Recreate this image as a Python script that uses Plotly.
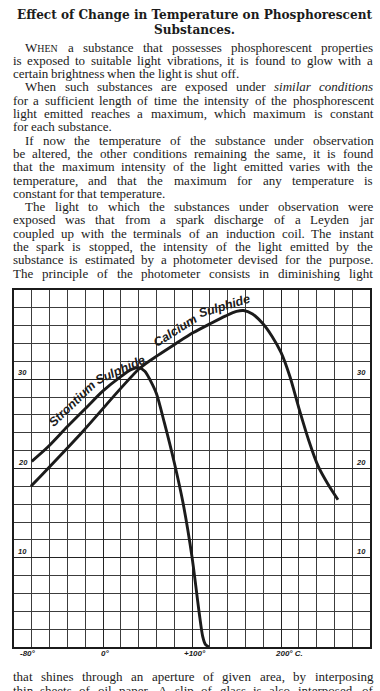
import plotly.graph_objects as go

# ---------------- data ----------------
sr_temp = [-80, -62, -40, -18, 0, 20, 32, 40, 47, 53, 60, 69, 80, 90, 100, 108, 112, 115, 119]
sr_int = [20.8, 22.4, 24.7, 26.9, 28.7, 30.3, 31.1, 31.3, 30.9, 29.9, 28.4, 25.1, 20.7, 16.1, 10.1, 3.9, 1.2, 0.3, 0.0]

ca_temp = [-81, -25, 41, 62, 82, 101, 120, 138, 150, 158, 168, 179, 190, 200, 210, 220, 231, 242, 253, 264]
ca_int = [18.0, 23.9, 31.2, 32.7, 34.0, 35.2, 36.2, 37.1, 37.6, 37.7, 37.3, 36.3, 34.8, 33.0, 30.3, 26.8, 23.2, 20.2, 18.2, 16.5]

x_tick_vals = [-80, 0, 100, 200]
x_tick_text = ["-80°", "0°", "+100°", "200° C."]
y_tick_vals = [10, 20, 30]
y_tick_text = ["10", "20", "30"]

title_lines = ["Effect of Change in Temperature on Phosphorescent", "Substances."]

paras_top = [
    ["WHEN a substance that possesses phosphorescent properties",
     "is exposed to suitable light vibrations, it is found to glow with a",
     "certain brightness when the light is shut off."],
    ["When such substances are exposed under *similar *conditions",
     "for a sufficient length of time the intensity of the phosphorescent",
     "light emitted reaches a maximum, which maximum is constant",
     "for each substance."],
    ["If now the temperature of the substance under observation",
     "be altered, the other conditions remaining the same, it is found",
     "that the maximum intensity of the light emitted varies with the",
     "temperature, and that the maximum for any temperature is",
     "constant for that temperature."],
    ["The light to which the substances under observation were",
     "exposed was that from a spark discharge of a Leyden jar",
     "coupled up with the terminals of an induction coil. The instant",
     "the spark is stopped, the intensity of the light emitted by the",
     "substance is estimated by a photometer devised for the purpose.",
     "The principle of the photometer consists in diminishing light"],
]
lines_bottom = ["that shines through an aperture of given area, by interposing",
                "thin sheets of oil paper. A slip of glass is also interposed, of"]

# ---------------- layout constants ----------------
W, H = 380, 691
L, R, T, B = 14, 8, 290, 44
PW, PH = W - L - R, H - T - B
INK = "#1b1b1b"
FS = 13.0
SERIF = "Liberation Serif"

def pxx(px):
    return (px - L) / PW

def pyy(py):
    return (H - B - py) / PH

TIMES = {' ': 250, 'a': 444, 'b': 500, 'c': 444, 'd': 500, 'e': 444, 'f': 333, 'g': 500, 'h': 500,
         'i': 278, 'j': 278, 'k': 500, 'l': 278, 'm': 778, 'n': 500, 'o': 500, 'p': 500, 'q': 500,
         'r': 333, 's': 389, 't': 278, 'u': 500, 'v': 500, 'w': 722, 'x': 500, 'y': 500, 'z': 444,
         'A': 722, 'B': 667, 'C': 667, 'D': 722, 'E': 611, 'F': 556, 'G': 722, 'H': 722, 'I': 333,
         'J': 389, 'K': 722, 'L': 611, 'M': 889, 'N': 722, 'O': 722, 'P': 556, 'Q': 722, 'R': 667,
         'S': 556, 'T': 611, 'U': 722, 'V': 722, 'W': 944, 'X': 722, 'Y': 722, 'Z': 611,
         ',': 250, '.': 250, ';': 278, ':': 278, '-': 333, "'": 333}
TIMES_I = dict(TIMES)
TIMES_I.update({'a': 500, 'f': 278, 'k': 444, 'm': 722, 'r': 389, 'v': 444, 'w': 667, 'x': 444,
                'y': 444, 'z': 389})

SC = 0.76

def word_info(w):
    if w == "WHEN":
        html = 'W<span style="font-size:%.1fpx">HEN</span>' % (FS * SC)
        width = (TIMES['W'] + SC * (TIMES['H'] + TIMES['E'] + TIMES['N'])) * FS / 1000
        return html, width
    if w.startswith('*'):
        w = w[1:]
        return '<i>%s</i>' % w, sum(TIMES_I.get(c, 500) for c in w) * FS / 1000
    return w, sum(TIMES.get(c, 500) for c in w) * FS / 1000

annotations = []

def add_line(text, yc, indent, justify):
    words = text.split(' ')
    infos = [word_info(w) for w in words]
    left = 12.5 + indent
    right = 375.0
    total = sum(wd for _, wd in infos)
    if justify and len(words) > 1:
        gap = (right - left - total) / (len(words) - 1)
    else:
        gap = TIMES[' '] * FS / 1000
    x = left
    for html, wd in infos:
        annotations.append(dict(
            text=html, x=pxx(x), y=pyy(yc), xref="paper", yref="paper",
            xanchor="left", yanchor="middle", showarrow=False, borderpad=0, borderwidth=0,
            font=dict(family=SERIF, size=FS, color=INK)))
        x += wd + gap

i = 0
for para in paras_top:
    for j, line in enumerate(para):
        last = (j == len(para) - 1)
        justify = (not last) or (para is paras_top[-1])
        add_line(line, 47 + 13.3 * i, 13 if j == 0 else 0, justify)
        i += 1
for k, line in enumerate(lines_bottom):
    add_line(line, 676.7 + 13.3 * k, 0, True)

# title
for k, t in enumerate(title_lines):
    annotations.append(dict(
        text=t, x=pxx(196), y=pyy([14.7, 29.5][k]), xref="paper", yref="paper",
        xanchor="center", yanchor="middle", showarrow=False, borderpad=0,
        font=dict(family="DejaVu Serif", size=12.1, color=INK, weight="bold")))

LBL = dict(family="Liberation Sans", size=7.5, color=INK, weight="bold", style="italic")
# y labels on both sides, sitting on their grid lines
for v, t in zip(y_tick_vals, y_tick_text):
    annotations.append(dict(text=t, x=pxx(17), y=v, xref="paper", yref="y", xanchor="left",
                            yanchor="bottom", showarrow=False, borderpad=0, yshift=1, font=LBL))
    annotations.append(dict(text=t, x=pxx(369), y=v, xref="paper", yref="y", xanchor="right",
                            yanchor="bottom", showarrow=False, borderpad=0, yshift=1, font=LBL))
# x labels under the frame
xshifts = [-4, 2, 3, 0]
for v, t, s in zip(x_tick_vals, x_tick_text, xshifts):
    anchor = "left" if t.startswith("200") else "center"
    annotations.append(dict(text=t, x=v, y=pyy(653), xref="x", yref="paper", xanchor=anchor,
                            yanchor="middle", showarrow=False, borderpad=0,
                            xshift=(s if anchor == "center" else -7),
                            font=dict(LBL, size=8)))

CURVE_LBL = dict(family="Liberation Sans", size=12.5, color=INK, weight="bold", style="italic")
curve_labels = [
    ("Strontium", -34.5, 27.2, -44),
    ("Sulphide", 19.5, 31.0, -24),
    ("Calcium", 81.0, 35.4, -32),
    ("Sulphide", 136.5, 38.2, -17),
]
for t, x, y, ang in curve_labels:
    annotations.append(dict(text=t, x=x, y=y, xref="x", yref="y", showarrow=False,
                            textangle=ang, font=CURVE_LBL, borderpad=0))

fig = go.Figure()
fig.add_trace(go.Scatter(x=sr_temp, y=sr_int, mode="lines", name="Strontium Sulphide",
                         line=dict(color=INK, width=2.9, shape="spline", smoothing=0.8),
                         hoverinfo="skip", showlegend=False))
fig.add_trace(go.Scatter(x=ca_temp, y=ca_int, mode="lines", name="Calcium Sulphide",
                         line=dict(color=INK, width=2.9, shape="spline", smoothing=0.8),
                         hoverinfo="skip", showlegend=False))

axis_common = dict(showgrid=True, gridcolor="#222222", gridwidth=1.4, zeroline=False,
                   showticklabels=False, ticks="", showline=True, mirror=True,
                   linecolor=INK, linewidth=1.6)
fig.update_layout(
    width=W, height=H, margin=dict(l=L, r=R, t=T, b=B, pad=0),
    paper_bgcolor="white", plot_bgcolor="white", showlegend=False,
    xaxis=dict(axis_common, range=[-100, 300], tick0=0, dtick=100,
               minor=dict(dtick=20, showgrid=True, gridcolor="#3c3c3c", gridwidth=1.0)),
    yaxis=dict(axis_common, range=[0, 40], tick0=0, dtick=10,
               minor=dict(dtick=2, showgrid=True, gridcolor="#3c3c3c", gridwidth=1.0)),
    annotations=annotations,
)
fig.write_html("out.html", config={"displayModeBar": False},
               post_script="document.body.style.margin='0';document.body.style.overflow='hidden';")
